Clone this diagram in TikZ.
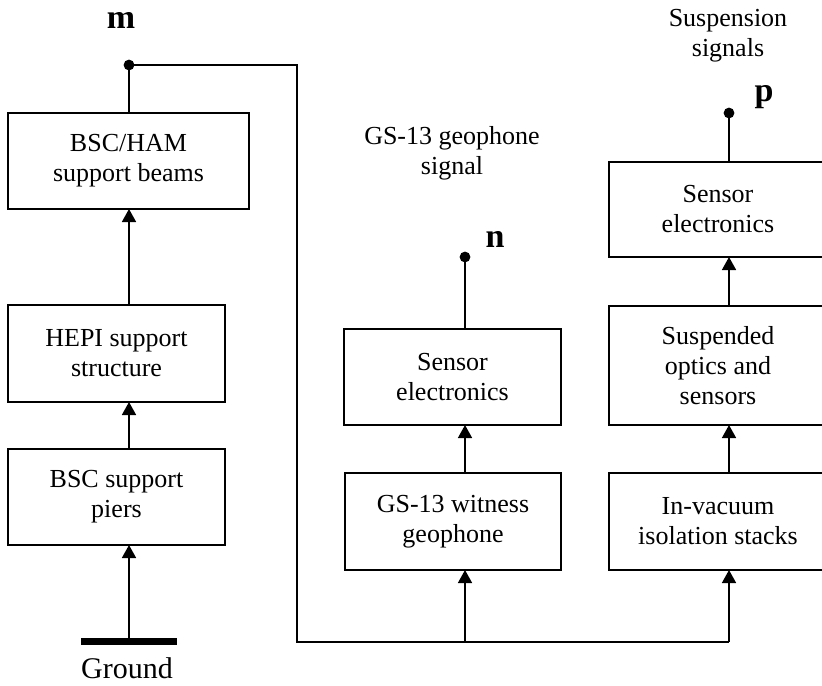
\documentclass[tikz,border=0pt]{standalone}
\usepackage{fontspec}
\setmainfont{Liberation Serif}
\usetikzlibrary{arrows.meta}
\begin{document}
\begin{tikzpicture}[x=0.5pt, y=-0.5pt, line width=0.8pt,
  blk/.style={draw, align=center, inner sep=0pt, outer sep=0pt, font=\fontsize{13}{15}\selectfont},
  lbl/.style={align=center, inner sep=0pt, font=\fontsize{13}{15}\selectfont},
  sig/.style={inner sep=0pt, font=\fontsize{17}{20}\selectfont\bfseries},
  >={Triangle[length=6.5pt, width=7pt]}]
  \useasboundingbox (0,0) rectangle (822,685);
  % left column
  \node[blk, minimum width=120.5pt, minimum height=48pt] (beams) at (128.5,161) {BSC/HAM\\support beams};
  \node[blk, minimum width=108.5pt, minimum height=48.5pt] (hepi) at (116.5,353.5) {HEPI support\\structure};
  \node[blk, minimum width=108.5pt, minimum height=48pt] (piers) at (116.5,497) {BSC support\\piers};
  \coordinate (m) at (129,65);
  \coordinate (gnd) at (129,641);
  \draw[line width=3.5pt] (81,641) -- (177,641);
  \node[inner sep=0pt, font=\fontsize{15}{18}\selectfont] (ground) at (127,668) {Ground};
  \draw[->] (gnd) -- (gnd |- piers.south);
  \draw[->] (m |- hepi.north) -- (m |- beams.south);
  \draw[->] (m |- piers.north) -- (m |- hepi.south);
  \draw (m) -- (m |- beams.north);
  \fill (m) circle[radius=2.7pt];
  \node[sig] (mlbl) at (121,20) {m};
  % witness geophone
  \node[blk, minimum width=108.5pt, minimum height=48pt] (sensn) at (452.5,377) {Sensor\\electronics};
  \node[blk, minimum width=108pt, minimum height=48.5pt] (gsw) at (453,521.5) {GS-13 witness\\geophone};
  \coordinate (n) at (465,257);
  \draw (n) -- (n |- sensn.north);
  \draw[->] (n |- gsw.north) -- (n |- sensn.south);
  \fill (n) circle[radius=2.7pt];
  \node[sig] (nlbl) at (495,239) {n};
  \node[lbl] (gslbl) at (452,153) {GS-13 geophone\\signal};
  % suspension
  \node[blk, minimum width=109pt, minimum height=47.5pt] (sensp) at (718,209.5) {Sensor\\electronics};
  \node[blk, minimum width=109pt, minimum height=59.5pt] (susp) at (718,365.5) {Suspended\\optics and\\sensors};
  \node[blk, minimum width=109pt, minimum height=48.5pt] (invac) at (718,521.5) {In-vacuum\\isolation stacks};
  \coordinate (p) at (729,113);
  \draw (p) -- (p |- sensp.north);
  \draw[->] (p |- susp.north) -- (p |- sensp.south);
  \draw[->] (p |- invac.north) -- (p |- susp.south);
  \fill (p) circle[radius=2.7pt];
  \node[sig] (plbl) at (764,97) {p};
  \node[lbl] (susplbl) at (728,36) {Suspension\\signals};
  % ground motion path
  \coordinate (busL) at (297,642);
  \coordinate (busR) at (729,642);
  \draw (m) -| (busL) -- (busR);
  \draw[->] (n |- busL) -- (n |- gsw.south);
  \draw[->] (busR) -- (p |- invac.south);
\end{tikzpicture}
\end{document}
